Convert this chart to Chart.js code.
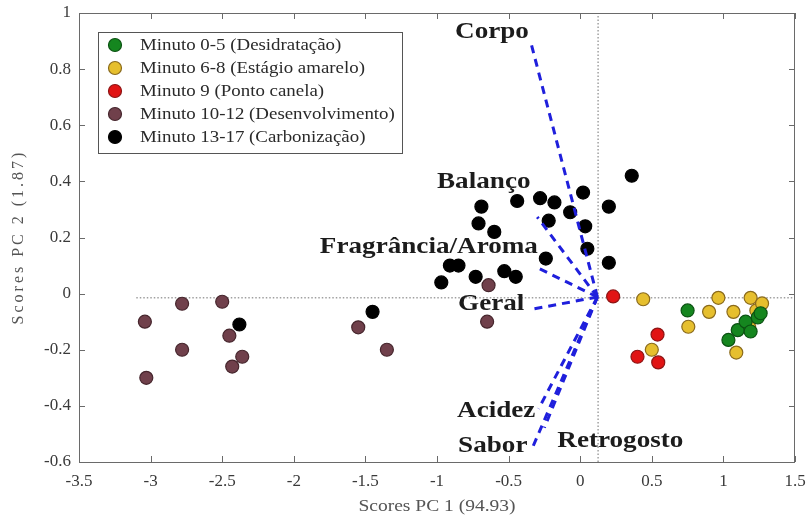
<!DOCTYPE html>
<html>
<head>
<meta charset="utf-8">
<script src="https://cdn.jsdelivr.net/npm/chart.js@4.4.1/dist/chart.umd.min.js"></script>
<style>
  html, body { margin: 0; padding: 0; background: #fff; }
  #wrap { width: 806px; height: 522px; }
</style>
</head>
<body>
<div id="wrap"><canvas id="chart" width="806" height="522"></canvas></div>
<script>
const xTicks = [-3.5, -3, -2.5, -2, -1.5, -1, -0.5, 0, 0.5, 1, 1.5];
const yTicks = [-0.6, -0.4, -0.2, 0, 0.2, 0.4, 0.6, 0.8, 1];

const groupNames = [
  'Minuto 0-5 (Desidratação)',
  'Minuto 6-8 (Estágio amarelo)',
  'Minuto 9 (Ponto canela)',
  'Minuto 10-12 (Desenvolvimento)',
  'Minuto 13-17 (Carbonização)'
];
const groupFill = ['#15861f', '#e6bf2e', '#e11414', '#70404b', '#000000'];
const groupEdge = ['#0b5212', '#8a6a1c', '#8e1414', '#46262d', '#000000'];

const greenX = [0.75, 1.035, 1.10, 1.155, 1.19, 1.24, 1.26];
const greenY = [-0.06, -0.165, -0.13, -0.10, -0.135, -0.085, -0.07];
const yellowX = [0.44, 0.50, 0.755, 0.90, 0.965, 1.07, 1.09, 1.18, 1.19, 1.23, 1.27];
const yellowY = [-0.02, -0.20, -0.118, -0.065, -0.015, -0.065, -0.21, -0.12, -0.015, -0.06, -0.035];
const redX = [0.23, 0.40, 0.54, 0.545];
const redY = [-0.01, -0.225, -0.146, -0.245];
const brownX = [-3.04, -2.78, -2.50, -2.78, -2.45, -2.36, -2.43, -3.03, -1.55, -1.35, -0.64, -0.65];
const brownY = [-0.10, -0.036, -0.029, -0.20, -0.15, -0.225, -0.26, -0.30, -0.12, -0.20, 0.03, -0.10];
const blackX = [-2.38, -1.45, -0.69, -0.71, -0.60, -0.44, -0.28, -0.18, 0.02, 0.20, -0.07, -0.22,
  0.035, 0.05, -0.24, 0.20, -0.91, -0.85, -0.97, -0.73, -0.53, -0.45, 0.36];
const blackY = [-0.11, -0.065, 0.31, 0.25, 0.22, 0.33, 0.34, 0.325, 0.36, 0.31, 0.29, 0.26,
  0.24, 0.16, 0.125, 0.11, 0.10, 0.10, 0.04, 0.06, 0.08, 0.06, 0.42];

const groupX = [greenX, yellowX, redX, brownX, blackX];
const groupY = [greenY, yellowY, redY, brownY, blackY];

// loadings (vectors from the origin)
const origin = [0.12, -0.012];
const loadNames = ['Corpo', 'Balanço', 'Fragrância/Aroma', 'Geral', 'Acidez', 'Sabor', 'Retrogosto'];
const loadX = [-0.35, -0.30, -0.294, -0.329, -0.29, -0.329, -0.25];
const loadY = [0.905, 0.273, 0.091, -0.055, -0.41, -0.544, -0.478];
const labelX = [-0.874, -1.0, -1.818, -0.853, -0.86, -0.853, -0.16];
const labelY = [0.912, 0.376, 0.145, -0.059, -0.44, -0.564, -0.546];

// dotted reference lines
const refX = 0.125;
const refY = -0.015;
const refSpan = [-3.1, 1.5];

const datasets = [];

loadNames.forEach((n, i) => {
  datasets.push({
    type: 'line',
    label: n,
    data: [{ x: origin[0], y: origin[1] }, { x: loadX[i], y: loadY[i] }],
    borderColor: '#1f1fdc',
    borderWidth: 3,
    borderDash: [8, 6],
    pointRadius: 0,
    fill: false,
    order: 0
  });
});

groupNames.forEach((n, i) => {
  datasets.push({
    type: 'scatter',
    label: n,
    data: groupX[i].map((x, j) => ({ x: x, y: groupY[i][j] })),
    backgroundColor: groupFill[i],
    borderColor: groupEdge[i],
    borderWidth: 1.2,
    pointRadius: 6.5,
    order: 1
  });
});

datasets.push({
  type: 'line',
  label: 'refH',
  data: [{ x: refSpan[0], y: refY }, { x: refSpan[1], y: refY }],
  borderColor: '#a0a0a0',
  borderWidth: 1.5,
  borderDash: [1.5, 2],
  pointRadius: 0,
  order: 2
});
datasets.push({
  type: 'line',
  label: 'refV',
  data: [{ x: refX, y: -0.6 }, { x: refX, y: 1 }],
  borderColor: '#a0a0a0',
  borderWidth: 1.5,
  borderDash: [1.5, 2],
  pointRadius: 0,
  order: 2
});

const decor = {
  id: 'decor',
  afterDraw(chart) {
    const ctx = chart.ctx;
    const a = chart.chartArea;
    const xs = chart.scales.x, ys = chart.scales.y;
    ctx.save();

    // box and inward ticks
    ctx.strokeStyle = '#6a6a6a';
    ctx.lineWidth = 1;
    ctx.strokeRect(a.left + 0.5, a.top + 0.5, a.right - a.left - 1, a.bottom - a.top);
    ctx.beginPath();
    xTicks.forEach(v => {
      const px = Math.round(xs.getPixelForValue(v)) + 0.5;
      ctx.moveTo(px, a.bottom); ctx.lineTo(px, a.bottom - 6);
      ctx.moveTo(px, a.top); ctx.lineTo(px, a.top + 6);
    });
    yTicks.forEach(v => {
      const py = Math.round(ys.getPixelForValue(v)) + 0.5;
      ctx.moveTo(a.left, py); ctx.lineTo(a.left + 6, py);
      ctx.moveTo(a.right, py); ctx.lineTo(a.right - 6, py);
    });
    ctx.stroke();

    // loading labels
    ctx.fillStyle = '#1c1c1c';
    ctx.font = 'bold 23px "Liberation Serif"';
    ctx.textBaseline = 'alphabetic';
    loadNames.forEach((n, i) => {
      const px = xs.getPixelForValue(labelX[i]);
      const py = ys.getPixelForValue(labelY[i]);
      ctx.save();
      ctx.translate(px, py);
      ctx.scale(1.18, 1);
      ctx.fillText(n, 0, 0);
      ctx.restore();
    });

    // legend
    const lx = 98, ly = 32, lw = 304, lh = 121;
    ctx.fillStyle = '#ffffff';
    ctx.fillRect(lx, ly, lw, lh);
    ctx.strokeStyle = '#555';
    ctx.strokeRect(lx + 0.5, ly + 0.5, lw, lh);
    ctx.font = '16px "Liberation Serif"';
    ctx.textBaseline = 'middle';
    groupNames.forEach((n, i) => {
      const cy = ly + 13 + i * 23;
      ctx.beginPath();
      ctx.arc(lx + 17, cy, 6.5, 0, Math.PI * 2);
      ctx.fillStyle = groupFill[i];
      ctx.fill();
      ctx.strokeStyle = groupEdge[i];
      ctx.lineWidth = 1.2;
      ctx.stroke();
      ctx.fillStyle = '#2a2a2a';
      ctx.save();
      ctx.translate(lx + 42, cy + 1);
      ctx.scale(1.18, 1);
      ctx.fillText(n, 0, 0);
      ctx.restore();
    });

    // axis titles
    ctx.fillStyle = '#555';
    ctx.font = '16px "Liberation Serif"';
    ctx.textAlign = 'center';
    ctx.textBaseline = 'middle';
    ctx.save();
    ctx.translate((a.left + a.right) / 2, 507);
    ctx.scale(1.22, 1);
    ctx.fillText('Scores PC 1 (94.93)', 0, 0);
    ctx.restore();
    ctx.save();
    ctx.translate(19, 237);
    ctx.rotate(-Math.PI / 2);
    ctx.letterSpacing = '3px';
    ctx.fillText('Scores PC 2 (1.87)', 0, 0);
    ctx.restore();

    ctx.restore();
  }
};

new Chart(document.getElementById('chart'), {
  type: 'scatter',
  data: { datasets: datasets },
  options: {
    responsive: false,
    animation: false,
    events: [],
    layout: { padding: { top: 13, right: 11, left: 0, bottom: 0 } },
    plugins: { legend: { display: false }, tooltip: { enabled: false } },
    scales: {
      x: {
        type: 'linear',
        min: -3.5, max: 1.5,
        afterBuildTicks: s => { s.ticks = xTicks.map(v => ({ value: v })); },
        afterFit: s => { s.height = 60; s.paddingLeft = 0; s.paddingRight = 0; },
        grid: { display: false, drawTicks: false },
        border: { display: false },
        ticks: {
          padding: 9,
          color: '#3a3a3a',
          font: { family: 'Liberation Serif', size: 17 },
          callback: v => String(v)
        }
      },
      y: {
        type: 'linear',
        min: -0.6, max: 1,
        afterBuildTicks: s => { s.ticks = yTicks.map(v => ({ value: v })); },
        afterFit: s => { s.width = 79; s.paddingTop = 0; s.paddingBottom = 0; },
        grid: { display: false, drawTicks: false },
        border: { display: false },
        ticks: {
          padding: 8,
          color: '#3a3a3a',
          font: { family: 'Liberation Serif', size: 17 },
          callback: v => String(v)
        }
      }
    }
  },
  plugins: [decor]
});
</script>
</body>
</html>
